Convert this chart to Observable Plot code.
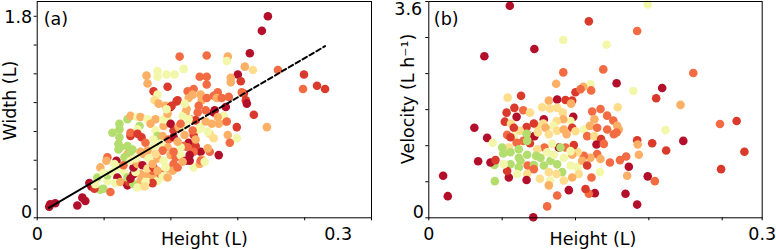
<!DOCTYPE html>
<html><head><meta charset="utf-8">
<script src="https://cdn.jsdelivr.net/npm/d3@7"></script>
<script src="https://cdn.jsdelivr.net/npm/@observablehq/plot@0.6"></script>
<style>
body{margin:0;background:#fff;}
#wrap{display:flex;width:776px;height:250px;overflow:hidden;}
#wrap svg{flex:none;}
</style></head><body><div id="wrap"></div>
<script>
// ---------- Panel (a): Width vs Height ----------
const heightA = [0.230,0.224,0.212,0.142,0.169,0.190,0.189,0.207,0.215,0.240,0.266,0.265,0.279,0.287,0.200,0.203,0.193,0.193,0.169,0.162,0.169,0.206,0.208,0.209,0.216,0.229,0.199,0.188,0.181,0.172,0.190,0.199,0.192,0.172,0.181,0.163,0.164,0.156,0.152,
0.109,0.110,0.120,0.120,0.129,0.137,0.146,0.130,0.116,0.120,0.117,0.121,0.128,0.130,0.133,0.140,0.150,0.156,0.155,0.151,0.163,0.164,0.169,0.176,0.180,0.179,0.184,0.191,0.204,0.148,0.160,0.176,0.186,0.174,0.189,0.145,0.153,0.158,0.149,0.147,0.161,0.168,0.177,0.188,0.180,0.134,0.139,0.136,0.141,0.146,0.151,0.143,0.156,0.161,0.151,0.146,0.158,0.156,0.163,0.168,0.170,0.150,
0.081,0.081,0.090,0.095,0.075,0.082,0.082,0.082,0.083,0.090,0.093,0.100,0.103,0.110,0.113,0.102,0.100,0.093,0.093,0.100,0.104,0.108,0.118,0.120,0.116,0.125,0.126,0.130,0.133,0.131,0.136,0.143,0.130,0.123,0.116,0.110,0.103,0.118,0.126,0.130,0.129,
0.060,0.063,0.066,0.070,0.073,0.070,0.075,0.080,0.078,0.083,0.090,0.091,0.096,0.086,0.090,0.096,0.093,0.103,0.103,0.110,0.111,0.116,0.120,0.123,0.115,0.125,0.130,0.136,0.135,0.130,0.115,0.108,0.098,0.063,0.070,0.069,0.079,0.077,0.082,0.090,0.087,0.093,0.096,0.093,0.100,0.105,0.110,0.116,0.106,0.111,0.115,0.120,0.126,0.133,0.138,0.143,0.148,0.152,0.162,0.163,0.167,0.140,0.145,0.136,
0.013,0.018,0.012,0.040,0.045,0.048,0.052,0.054,0.057,
0.066,0.100,0.107,0.058,0.120,0.128,0.140,0.147,0.155,0.125,0.118,0.098,0.086,0.158,0.170,0.176];
const widthA = [1.80,1.67,1.47,1.44,1.45,1.44,1.40,1.35,1.32,1.32,1.28,1.15,1.18,1.15,1.28,1.22,1.25,1.21,1.26,1.26,1.19,1.11,1.05,1.02,0.92,0.81,0.81,0.86,0.84,0.75,0.74,0.71,0.67,0.59,0.56,0.59,0.52,0.45,0.51,
1.27,1.20,1.31,1.26,1.28,1.28,1.33,1.17,1.13,1.10,1.05,1.02,1.00,0.96,0.99,1.05,1.13,1.15,1.10,1.07,1.10,1.05,1.07,1.09,1.12,1.07,1.07,1.08,1.12,0.94,0.94,0.94,0.91,0.84,0.86,0.91,0.88,0.87,0.97,1.02,1.00,0.96,0.96,0.99,0.90,1.00,1.04,0.78,0.81,0.82,0.88,0.84,0.74,0.79,0.67,0.64,0.64,0.59,0.81,0.86,0.77,0.63,
0.66,0.61,0.64,0.61,0.76,0.84,0.79,0.72,0.63,0.88,0.91,0.90,0.90,0.88,0.84,0.82,0.79,0.73,0.76,0.75,0.72,0.67,0.78,0.73,0.70,0.73,0.82,0.87,0.84,0.70,0.72,0.63,0.63,0.66,0.63,0.60,0.59,0.88,0.88,0.93,0.97,
0.36,0.25,0.26,0.33,0.23,0.38,0.41,0.36,0.31,0.32,0.29,0.32,0.30,0.41,0.36,0.39,0.35,0.39,0.33,0.38,0.32,0.36,0.33,0.39,0.42,0.37,0.44,0.48,0.42,0.36,0.31,0.32,0.41,0.45,0.54,0.51,0.51,0.48,0.45,0.57,0.54,0.59,0.45,0.51,0.48,0.47,0.44,0.45,0.57,0.53,0.48,0.53,0.51,0.56,0.54,0.56,0.51,0.56,0.48,0.51,0.50,0.45,0.50,0.59,
0.12,0.13,0.10,0.11,0.18,0.15,0.31,0.28,0.26,
0.40,0.27,0.28,0.30,0.42,0.45,0.68,0.74,0.78,0.60,0.57,0.53,0.47,0.70,0.62,0.71];
const colorA = [0,0,0,2,2,3,5,3,4,2,1,2,1,1,0,1,3,3,2,2,2,1,1,0,1,3,1,3,3,4,3,5,2,2,0,0,3,5,0,
3,3,5,5,5,5,5,1,1,5,4,3,3,3,0,1,2,2,3,3,3,3,2,2,2,3,2,2,2,3,2,0,5,3,2,5,3,1,3,5,2,2,0,0,3,1,1,1,3,5,5,2,1,5,0,2,1,2,5,3,5,2,
6,6,6,6,6,6,6,6,6,6,3,5,3,5,3,6,5,1,2,1,1,2,5,6,5,3,3,5,0,2,0,5,3,5,5,3,3,3,5,3,5,
6,6,6,5,2,6,5,0,5,3,0,1,6,5,6,0,0,3,3,3,5,3,5,2,2,5,3,2,3,3,1,5,5,3,2,3,0,5,5,3,6,6,0,5,3,0,4,1,3,5,3,3,5,3,2,5,0,0,3,2,5,2,3,2,
0,0,0,0,0,0,0,0,1,
5,5,4,5,3,5,3,3,2,2,4,5,2,3,3,4];
const xTicksA = [0, 0.0667, 0.1333, 0.2, 0.2667, 0.3333];
const yTicksA = [0, 0.257, 0.514, 0.771, 1.029, 1.286, 1.543, 1.8];
const xTickLabelsA = [0, 0.3];
const yTickLabelsA = [0, 1.8];
const fitSolidX = [0.0116, 0.12], fitSolidY = [0.089, 0.657];
const fitDashX = [0.12, 0.287], fitDashY = [0.657, 1.533];

// ---------- Panel (b): Velocity vs Height ----------
const heightB = [0.0729,0.144,0.197,0.1875,0.121,0.160,0.095,0.050,0.157,0.121,0.238,0.169,0.1455,0.1146,0.139,0.132,0.1365,0.1461,0.184,0.210,0.2046,0.2265,0.071,0.083,0.108,0.1155,0.123,0.129,0.128,0.102,0.109,0.1155,0.1206,0.077,0.070,0.079,0.085,0.091,0.0684,0.074,0.041,0.0525,0.147,0.1545,0.149,0.1605,0.166,0.170,0.130,0.1275,0.129,0.121,0.115,0.112,0.1035,0.103,0.0975,0.0945,0.088,0.082,0.0765,0.0705,0.0765,0.0885,0.0951,0.0981,0.105,0.108,0.1155,0.1215,0.124,0.132,0.1395,0.145,0.1515,0.1425,0.149,0.155,0.1605,0.1665,0.1695,0.171,0.169,0.1875,0.188,0.201,0.213,0.229,0.262,0.277,0.284,0.2136,0.263,0.197,0.2034,0.1875,0.177,0.189,0.1785,0.180,0.1776,0.172,0.163,0.1494,0.144,0.141,0.1464,0.154,0.1509,0.1575,0.1515,0.1545,0.1455,0.1395,0.134,0.129,0.123,0.1305,0.117,0.111,0.104,0.0975,0.091,0.085,0.079,0.0735,0.072,0.066,0.067,0.0735,0.081,0.081,0.088,0.0885,0.0966,0.0885,0.0825,0.0735,0.081,0.089,0.0945,0.1035,0.1095,0.1125,0.1185,0.1215,0.1275,0.1065,0.1005,0.1155,0.120,0.1275,0.1335,0.138,0.1425,0.135,0.129,0.1215,0.115,0.108,0.109,0.100,0.0945,0.0885,0.088,0.0795,0.072,0.0705,0.0675,0.0591,0.0594,0.0555,0.060,0.0444,0.0129,0.0171,0.0576,0.1155,0.126,0.1065,0.094,0.108];
const velocityB = [3.53,3.27,3.55,3.11,2.96,2.88,2.81,2.69,2.47,2.42,2.41,2.24,2.22,2.23,2.18,2.09,2.14,2.12,2.11,2.16,1.99,1.88,2.00,2.03,1.95,1.97,1.96,1.95,1.90,1.84,1.82,1.83,1.75,1.83,1.75,1.68,1.79,1.75,1.60,1.57,1.50,1.33,1.77,1.81,1.64,1.70,1.62,1.84,1.68,1.61,1.50,1.64,1.61,1.53,1.64,1.57,1.53,1.57,1.51,1.45,1.50,1.38,1.36,1.39,1.36,1.42,1.50,1.39,1.45,1.47,1.39,1.44,1.47,1.53,1.50,1.36,1.36,1.31,1.47,1.39,1.53,1.47,1.42,1.29,1.22,1.24,1.46,1.28,1.56,1.61,1.10,1.12,0.81,0.69,0.61,0.22,0.40,1.05,0.70,0.85,1.02,0.96,0.92,0.41,0.40,0.48,0.67,0.76,1.22,1.23,1.06,0.98,1.00,1.03,1.09,1.05,1.17,1.21,1.17,1.23,1.17,1.14,1.24,1.28,1.25,1.34,1.17,1.17,1.07,1.09,1.14,1.00,1.40,1.28,1.03,1.05,0.95,0.89,0.84,0.87,0.88,0.87,0.95,1.05,1.17,1.00,1.11,1.09,1.00,0.89,0.76,0.87,0.84,0.95,0.87,0.73,0.67,0.62,0.73,0.76,0.62,0.65,0.81,0.73,0.63,0.73,0.67,0.78,0.89,0.88,0.61,0.92,0.96,0.94,0.70,0.36,1.25,0.37,0.46,0.19,0.01,0.54];
const colorB = [0,1,5,2,5,5,0,0,2,2,2,0,5,3,3,1,2,2,5,0,1,3,4,1,3,0,1,1,3,4,4,4,4,1,1,0,2,4,1,4,0,0,2,2,3,2,2,4,0,5,1,3,4,5,0,4,4,1,1,4,1,2,5,2,0,4,3,4,4,3,3,4,5,3,2,2,4,1,2,2,3,3,2,1,3,1,5,0,2,1,1,1,1,0,2,0,0,3,3,0,2,2,2,0,2,1,2,5,0,2,2,3,3,2,4,3,2,1,0,5,2,4,1,2,2,1,4,6,6,6,6,6,6,6,6,6,6,6,6,2,6,6,6,5,6,5,5,5,6,6,6,5,5,3,1,4,3,4,4,4,5,4,2,4,0,5,0,1,5,6,6,0,1,0,0,0,5,2,0,2,0,3];
const xTicksB = [0, 0.066, 0.132, 0.198, 0.264, 0.3];
const yTicksB = [0, 0.6, 1.2, 1.8, 2.4, 3.0, 3.6];
const xTickLabelsB = [0, 0.3];
const yTickLabelsB = [0, 3.6];

const palette = ["#b30f2a", "#d93a2b", "#f26b42", "#fcb066", "#fedd8c", "#f3f7aa", "#b3dd6c"];
const FONT = "DejaVu Sans";

const dataA = heightA.map((h, i) => ({h, v: widthA[i], c: colorA[i]}));
const dataB = heightB.map((h, i) => ({h, v: velocityB[i], c: colorB[i]}));
const solid = fitSolidX.map((x, i) => ({x, y: fitSolidY[i]}));
const dashed = fitDashX.map((x, i) => ({x, y: fitDashY[i]}));

function panel(cfg) {
  const T = {fontSize: 17.5, lineAnchor: "middle"};
  return Plot.plot({
    width: 388, height: 250,
    marginLeft: cfg.ml, marginRight: cfg.mr, marginTop: 1, marginBottom: 32.7,
    x: {domain: cfg.xd, label: null, axis: null},
    y: {domain: cfg.yd, label: null, axis: null},
    color: {type: "ordinal", domain: [0,1,2,3,4,5,6], range: palette},
    style: {fontFamily: FONT, fontSize: "17.5px", color: "black", background: "white"},
    marks: [
      Plot.dot(cfg.data, {x: "h", y: "v", fill: "c", r: 4.3}),
      ...(cfg.extra || []),
      Plot.frame({stroke: "black", strokeWidth: 1}),
      Plot.axisX({ticks: cfg.xt, tickSize: 3, tickFormat: () => "", label: null, anchor: "bottom"}),
      Plot.axisY({ticks: cfg.yt, tickSize: 3, tickFormat: () => "", label: null, anchor: "left"}),
      Plot.text(cfg.xl, {...T, x: d => d, frameAnchor: "bottom", textAnchor: "middle", dy: 17, text: d => String(d)}),
      Plot.text(cfg.yl, {...T, filter: d => d === 0, y: d => d, frameAnchor: "left", textAnchor: "end", dx: -5, dy: -5.8, text: d => String(d)}),
      Plot.text(cfg.yl, {...T, filter: d => d !== 0, y: d => d, frameAnchor: "left", textAnchor: "end", dx: cfg.topDx, dy: cfg.topDy, text: d => String(d)}),
      Plot.text([cfg.ylabel], {...T, frameAnchor: "left", textAnchor: "middle", rotate: -90, dx: cfg.ylDx, dy: cfg.ylDy, text: d => d}),
      Plot.text(["Height (L)"], {...T, frameAnchor: "bottom", textAnchor: "middle", dy: 21.3, dx: cfg.xlDx, text: d => d}),
      Plot.text([cfg.tag], {...T, frameAnchor: "top-left", textAnchor: "start", dx: cfg.tagDx, dy: 18, text: d => d})
    ]
  });
}

const plotA = panel({
  data: dataA, ml: 36.7, mr: 17, xd: [0, 0.3333], yd: [0, 1.932],
  xt: xTicksA, yt: yTicksA, xl: xTickLabelsA, yl: yTickLabelsA,
  topDx: -5, topDy: 1, ylabel: "Width (L)", ylDx: -27, ylDy: -9, xlDx: 0, tag: "(a)", tagDx: 6.5,
  extra: [
    Plot.line(solid, {x: "x", y: "y", stroke: "black", strokeWidth: 2}),
    Plot.line(dashed, {x: "x", y: "y", stroke: "black", strokeWidth: 2, strokeDasharray: "5,3"})
  ]
});
const plotB = panel({
  data: dataB, ml: 40.3, mr: 14.3, xd: [0, 0.3], yd: [0, 3.6],
  xt: xTicksB, yt: yTicksB, xl: xTickLabelsB, yl: yTickLabelsB,
  topDx: -6.6, topDy: 8, ylabel: "Velocity (L h\u207B\u00B9)", ylDx: -20.5, ylDy: -10.7, xlDx: -2.5, tag: "(b)", tagDx: 5
});
document.getElementById("wrap").append(plotA, plotB);
</script></body></html>
